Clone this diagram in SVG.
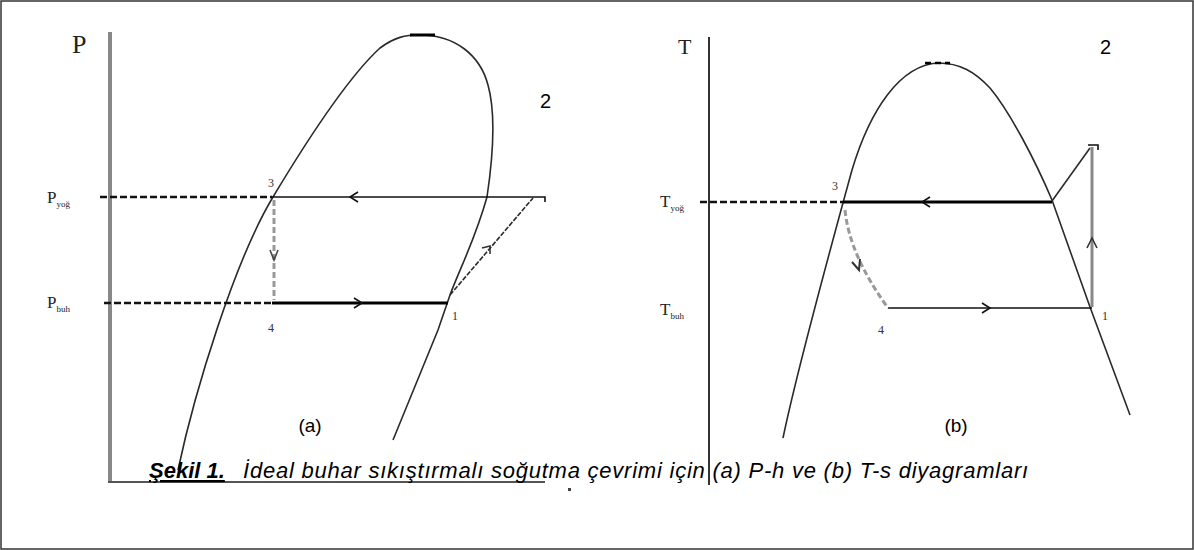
<svg xmlns="http://www.w3.org/2000/svg" width="1194" height="550" viewBox="0 0 1194 550">
<style>
.sans{font-family:"Liberation Sans",Arial,sans-serif;fill:#000}
.serif{font-family:"Liberation Serif","Times New Roman",serif;fill:#222}
.pt{font-family:"Liberation Serif",serif;font-size:12px;fill:#333}
.curve{fill:none;stroke:#2a2a2a;stroke-width:1.6}
.thin{fill:none;stroke:#111;stroke-width:1.6}
.thick{fill:none;stroke:#000;stroke-width:3}
.dash{fill:none;stroke:#111;stroke-width:2.5;stroke-dasharray:7 3}
.gdash{fill:none;stroke:#999;stroke-width:3;stroke-dasharray:6 3}
.chev{fill:none;stroke:#111;stroke-width:1.6}
</style>
<rect x="1" y="1" width="1192" height="548" fill="#fff" stroke="#333" stroke-width="1.5"/>

<g id="ph-axes">
<line x1="110" y1="32" x2="110" y2="482" stroke="#888" stroke-width="4"/>
<line x1="108" y1="482" x2="545" y2="482" stroke="#555" stroke-width="2"/>
<rect x="568" y="488" width="3" height="3" fill="#444"/>
<text class="serif" x="72" y="53" font-size="26">P</text>
<text class="serif" x="47" y="203" font-size="17">P<tspan font-size="9" dy="4">yoğ</tspan></text>
<text class="serif" x="47" y="308" font-size="17">P<tspan font-size="9" dy="4">buh</tspan></text>
</g>

<g id="ph-dome">
<path class="curve" d="M178,470 C195,390 235,260 273,197 C300,152 345,80 380,48 C395,37 405,35 420,35 C455,35 480,55 488,85 C495,110 494,150 487,197 C475,240 460,268 450,295 L438,330 L393,440"/>
<line x1="410" y1="35" x2="435" y2="35" stroke="#000" stroke-width="3"/>
</g>

<g id="ph-connectors">
<line class="dash" x1="100" y1="197" x2="272" y2="197" stroke-width="2"/>
<line class="thin" x1="272" y1="197" x2="533" y2="197"/>
<path class="chev" d="M358,192 L350,197 L358,202"/>
<path class="thin" d="M533,197 L545,197 L545,202"/>
<line class="dash" x1="104" y1="303" x2="272" y2="303" stroke-width="3"/>
<line class="thick" x1="272" y1="303" x2="448" y2="303"/>
<path class="chev" d="M354,298 L362,303 L354,308"/>
<line class="gdash" x1="274" y1="200" x2="274" y2="300"/>
<path d="M270,250 L274,260 L278,250" fill="none" stroke="#444" stroke-width="1.6"/>
<path class="curve" d="M450,295 L533,198" stroke-dasharray="5 1.5"/>
<path d="M482,248 L490,246 L490,254" fill="none" stroke="#333" stroke-width="1.6"/>
</g>

<g id="ph-labels">
<text class="pt" x="268" y="187">3</text>
<text class="pt" x="268" y="332">4</text>
<text class="pt" x="452" y="320">1</text>
<text class="sans" x="540" y="108" font-size="20">2</text>
<text class="sans" x="310" y="432" font-size="19" text-anchor="middle">(a)</text>
</g>

<g id="ts-axes">
<line x1="709" y1="37" x2="709" y2="485" stroke="#333" stroke-width="2"/>
<text class="serif" x="678" y="54" font-size="22">T</text>
<text class="serif" x="660" y="207" font-size="17">T<tspan font-size="9" dy="4">yoğ</tspan></text>
<text class="serif" x="660" y="315" font-size="17">T<tspan font-size="9" dy="4">buh</tspan></text>
</g>

<g id="ts-dome">
<path class="curve" d="M783,438 C795,380 830,250 852,170 C870,110 900,65 938,63 C960,63 975,72 990,88 C1010,112 1035,160 1052,200 L1090,307 L1130,415"/>
<line x1="925" y1="63" x2="950" y2="63" stroke="#000" stroke-width="2.5" stroke-dasharray="6 4"/>
</g>

<g id="ts-connectors">
<line class="dash" x1="700" y1="202" x2="843" y2="202" stroke-width="3"/>
<line class="thick" x1="843" y1="202" x2="1052" y2="202"/>
<path class="chev" d="M930,197 L922,202 L930,207"/>
<path class="curve" d="M1052,201 L1090,148"/>
<path class="thin" d="M1088,145 L1098,145 L1098,150"/>
<line x1="1092" y1="147" x2="1092" y2="307" stroke="#888" stroke-width="3"/>
<path d="M1087,248 L1092,238 L1097,248" fill="none" stroke="#333" stroke-width="1.6"/>
<line class="thin" x1="888" y1="308" x2="1092" y2="308"/>
<path class="chev" d="M982,303 L990,308 L982,313"/>
<path class="gdash" d="M845,210 C848,240 862,272 888,308" stroke-width="2" stroke="#777"/>
<path d="M852,262 L859,270 L860,259" fill="none" stroke="#333" stroke-width="2"/>
</g>

<g id="ts-labels">
<text class="pt" x="832" y="190">3</text>
<text class="pt" x="878" y="334">4</text>
<text class="pt" x="1102" y="320">1</text>
<text class="sans" x="1100" y="54" font-size="20">2</text>
<text class="sans" x="956" y="432" font-size="19" text-anchor="middle">(b)</text>
</g>

<g id="caption">
<text class="sans" x="149" y="478" font-size="22" font-style="italic"><tspan font-weight="bold" text-decoration="underline">Şekil 1.</tspan><tspan x="243" letter-spacing="0.77">İdeal buhar sıkıştırmalı soğutma çevrimi için (a) P-h ve (b) T-s diyagramları</tspan></text>
</g>
</svg>
